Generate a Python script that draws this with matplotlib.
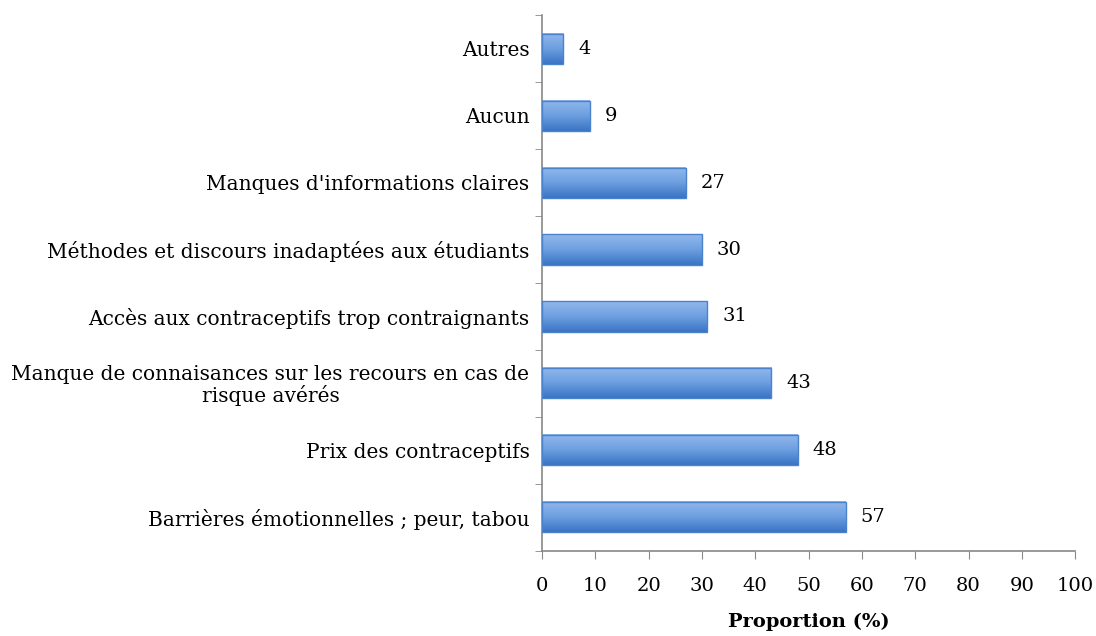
import numpy as np
from matplotlib import pyplot as plt
from matplotlib.colors import LinearSegmentedColormap

# categories listed bottom to top
categories = [
    "Barrières émotionnelles ; peur, tabou",
    "Prix des contraceptifs",
    "Manque de connaisances sur les recours en cas de\nrisque avérés",
    "Accès aux contraceptifs trop contraignants",
    "Méthodes et discours inadaptées aux étudiants",
    "Manques d'informations claires",
    "Aucun",
    "Autres",
]
values = [57, 48, 43, 31, 30, 27, 9, 4]
x_ticks = [0, 10, 20, 30, 40, 50, 60, 70, 80, 90, 100]

plt.rcParams['font.family'] = ['DejaVu Serif', 'Liberation Serif']

fig = plt.figure(figsize=(10.96, 6.36), dpi=100)
ax = fig.add_axes([0.4945, 0.134, 0.4865, 0.842])

y = np.arange(len(categories))
bars = ax.barh(y, values, height=0.45, color='none', edgecolor='#4a82cc', linewidth=1.0, zorder=3)

# vertical gradient fill, light on top, darker at bottom
grad = np.linspace(0, 1, 64).reshape(-1, 1)
cmap = LinearSegmentedColormap.from_list("barblue", ["#3a74c4", "#6d9fe0", "#92b8ec"])
for b in bars:
    x0, y0 = b.get_x(), b.get_y()
    ax.imshow(grad, cmap=cmap, aspect='auto', origin='lower',
              extent=[x0, x0 + b.get_width(), y0, y0 + b.get_height()], zorder=2)

for yi, v in zip(y, values):
    ax.text(v + 2.8, yi, str(v), va='center', ha='left', fontsize=14)

ax.set_xlim(0, 100)
ax.set_ylim(-0.5, len(categories) - 0.5)
ax.set_xticks(x_ticks)
ax.set_xticklabels([str(t) for t in x_ticks], fontsize=14)
ax.set_yticks(y)
ax.set_yticklabels(categories, fontsize=14.5, multialignment='center', linespacing=1.05)
ax.tick_params(axis='y', length=0, pad=9)
ax.set_yticks(np.arange(-0.5, len(categories), 1), minor=True)
ax.tick_params(axis='y', which='minor', length=5, direction='out', color='#888888')
ax.tick_params(axis='x', length=6, direction='out', color='#888888', pad=13)
ax.set_xlabel("Proportion (%)", fontsize=14, fontweight='bold', labelpad=13)

for side in ['top', 'right']:
    ax.spines[side].set_visible(False)
for side in ['left', 'bottom']:
    ax.spines[side].set_color('#888888')
    ax.spines[side].set_linewidth(1.2)

plt.savefig("out.png", dpi=100)
